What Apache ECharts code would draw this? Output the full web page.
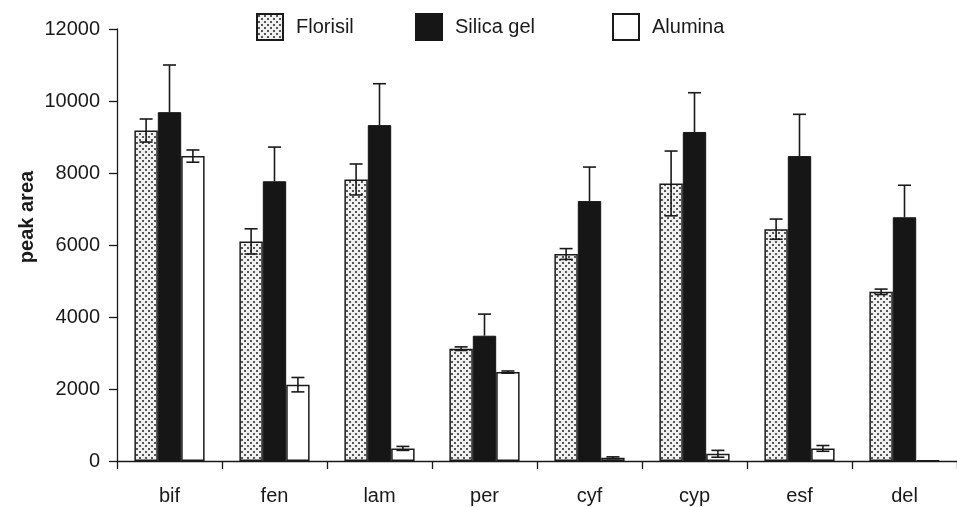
<!DOCTYPE html>
<html>
<head>
<meta charset="utf-8">
<script src="https://cdn.jsdelivr.net/npm/echarts@6/dist/echarts.min.js"></script>
<style>html,body{margin:0;padding:0;background:#fff}#c{width:957px;height:507px}</style>
</head>
<body>
<div id="c"></div>
<script>
const categories = ['bif','fen','lam','per','cyf','cyp','esf','del'];
const florisil    = [9180, 6100, 7820, 3120, 5750, 7710, 6440, 4700];
const florisilErr = [320, 350, 430, 50, 150, 900, 280, 75];
const silica      = [9690, 7770, 9330, 3480, 7220, 9140, 8470, 6770];
const silicaErr   = [1310, 950, 1150, 600, 945, 1090, 1160, 890];
const alumina     = [8470, 2120, 350, 2470, 90, 200, 350, 15];
const aluminaErr  = [170, 200, 55, 30, 25, 95, 80, 0];
const yTicks = [0, 2000, 4000, 6000, 8000, 10000, 12000];

const FONT = '"Liberation Sans", Arial, Helvetica, sans-serif';
const BAR_W = 23.4;

// dotted pattern for Florisil
const pc = document.createElement('canvas');
pc.width = 6; pc.height = 6;
const g = pc.getContext('2d');
g.fillStyle = '#f0f0f0'; g.fillRect(0,0,6,6);
g.fillStyle = '#555';
g.fillRect(1,1,2,2);
g.fillRect(4,4,2,2);
const dotPattern = {image: pc, repeat: 'repeat'};

// error bar data: [categoryIndex, value, err, slot, twoSided]
const errData = [];
categories.forEach((c, i) => {
  errData.push([i, florisil[i], florisilErr[i], -1, 1]);
  errData.push([i, silica[i], silicaErr[i], 0, 0]);
  errData.push([i, alumina[i], aluminaErr[i], 1, 1]);
});

const chart = echarts.init(document.getElementById('c'), null, {renderer: 'canvas'});

function legendAt(name, left) {
  return {
    data: [name], left: left, top: 13, padding: 0, itemWidth: 26, itemHeight: 26,
    icon: 'rect', selectedMode: false,
    textStyle: {fontFamily: FONT, fontSize: 20, color: '#1a1a1a', padding: [0,0,0,8]}
  };
}

chart.setOption({
  animation: false,
  backgroundColor: '#fff',
  textStyle: {fontFamily: FONT},
  legend: [legendAt('Florisil', 256), legendAt('Silica gel', 415), legendAt('Alumina', 612)],
  grid: {left: 117, top: 29, width: 846, height: 432, containLabel: false},
  xAxis: {
    type: 'category', data: categories, boundaryGap: true,
    axisLine: {lineStyle: {color: '#1a1a1a', width: 1.3}},
    axisTick: {show: true, length: 8, lineStyle: {color: '#1a1a1a', width: 1.3}},
    axisLabel: {fontFamily: FONT, fontSize: 20, color: '#1a1a1a', margin: 25},
    splitLine: {show: false}
  },
  yAxis: {
    type: 'value', min: yTicks[0], max: yTicks[yTicks.length-1], interval: 2000,
    axisLine: {show: true, lineStyle: {color: '#1a1a1a', width: 1.3}},
    axisTick: {show: true, length: 8, lineStyle: {color: '#1a1a1a', width: 1.3}},
    axisLabel: {fontFamily: FONT, fontSize: 20, color: '#1a1a1a', margin: 17,
                formatter: function (v) { return String(v); }},
    splitLine: {show: false}
  },
  graphic: [{
    type: 'text', x: 27, y: 217, rotation: Math.PI / 2,
    style: {text: 'peak area', font: 'bold 20px ' + FONT, fill: '#1a1a1a',
            textAlign: 'center', textVerticalAlign: 'middle'}
  }],
  series: [
    {name: 'Florisil', type: 'bar', data: florisil, barWidth: BAR_W, barGap: '0%',
     itemStyle: {color: dotPattern, borderColor: '#1a1a1a', borderWidth: 1.5}},
    {name: 'Silica gel', type: 'bar', data: silica, barWidth: BAR_W, barGap: '0%',
     itemStyle: {color: '#161616', borderColor: '#161616', borderWidth: 1}},
    {name: 'Alumina', type: 'bar', data: alumina, barWidth: BAR_W, barGap: '0%',
     itemStyle: {color: '#ffffff', borderColor: '#1a1a1a', borderWidth: 1.5}},
    {name: 'err', type: 'custom', data: errData, z: 10,
     encode: {x: 0, y: 1},
     renderItem: function (params, api) {
       const ci = api.value(0), v = api.value(1), e = api.value(2), slot = api.value(3), two = api.value(4);
       if (!e) return null;
       const top = api.coord([ci, v + e]);
       const bot = api.coord([ci, two ? v - e : v]);
       const x = top[0] + slot * BAR_W;
       const hw = 6.5;
       const st = {stroke: '#1a1a1a', lineWidth: 1.6};
       const children = [
         {type: 'line', shape: {x1: x, y1: top[1], x2: x, y2: bot[1]}, style: st},
         {type: 'line', shape: {x1: x - hw, y1: top[1], x2: x + hw, y2: top[1]}, style: st}
       ];
       if (two) children.push({type: 'line', shape: {x1: x - hw, y1: bot[1], x2: x + hw, y2: bot[1]}, style: st});
       return {type: 'group', children: children};
     }}
  ]
});
</script>
</body>
</html>
